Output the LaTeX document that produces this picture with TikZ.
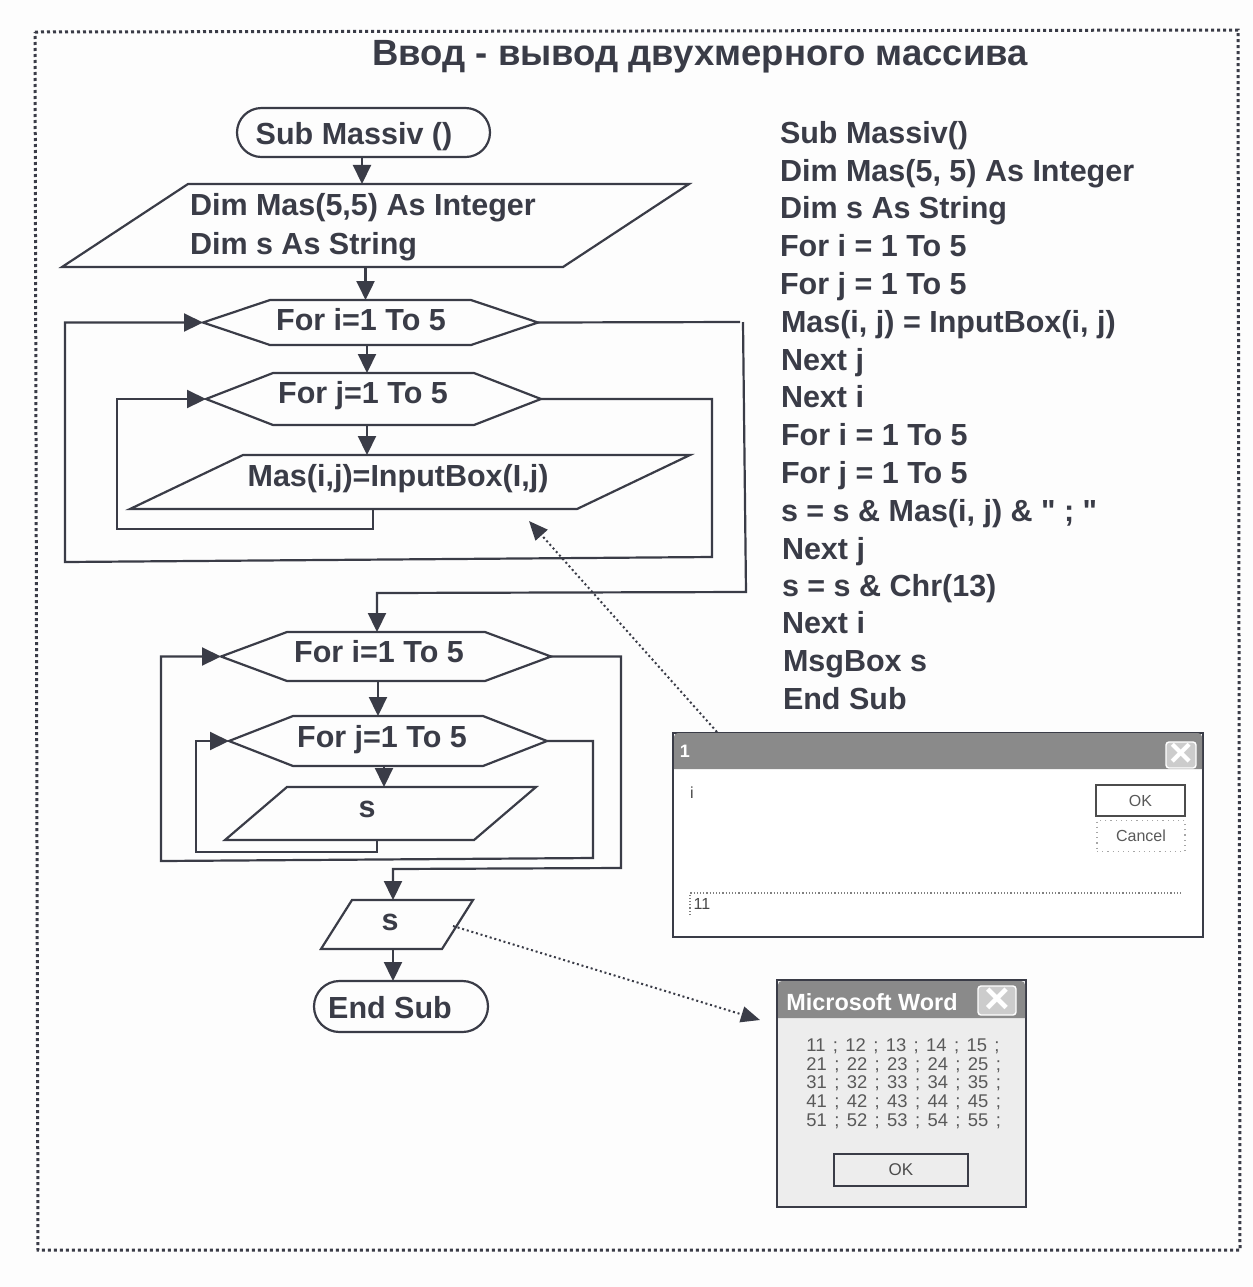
\documentclass[tikz,border=0pt]{standalone}
\usepackage{fontspec}
\setmainfont{Liberation Sans}
\newfontfamily\plainfam{Liberation Sans}
\newcommand{\straightq}{{\plainfam\bfseries\symbol{34}}}
\usetikzlibrary{shapes.geometric,shapes.symbols,shapes.misc,arrows.meta,calc}
\definecolor{ink}{HTML}{3A3C47}
\definecolor{paper}{HTML}{FDFDFD}
\tikzset{
  flow/.style={draw=ink,line width=1.1pt,fill=none,inner sep=0pt,outer sep=0pt},
  conn/.style={draw=ink,line width=1.1pt,line join=miter},
  arr/.style={conn,-{Triangle[length=9.5pt,width=9pt,color=ink]}},
  ptr/.style={draw=ink,line width=1pt,dash pattern=on 1pt off 1.4pt,-{Triangle[length=9.5pt,width=8pt,color=ink]}},
  lbl/.style={text=ink,font=\fontsize{15.25}{18}\selectfont\bfseries,inner sep=0pt,outer sep=0pt,anchor=base},
  code/.style={lbl,anchor=base west},
  stad/.style={flow,rounded rectangle},
  dlg/.style={draw=ink,line width=1.1pt,inner sep=0pt,outer sep=0pt,fill=white},
  barfill/.style={fill=black!46},
  closebtn/.style={fill=black!20,draw=white,line width=0.7pt,inner sep=0pt,outer sep=0pt,rounded corners=1.5pt},
  small/.style={text=black!72,font=\fontsize{8}{10}\selectfont,inner sep=0pt,outer sep=0pt},
}
% name, cx, cy, width, height, point length
\newcommand{\hexnode}[6]{%
  \pgfmathsetmacro{\hang}{2*atan(0.5*#5/#6)}%
  \node[flow,signal,signal to=east and west,signal pointer angle=\hang,
    minimum width=#4*0.5pt,minimum height=#5*0.5pt] (#1) at (#2,#3) {};}
% name, cx, cy, width, height, lean
\newcommand{\parnode}[6]{%
  \pgfmathsetmacro{\lang}{atan(#5/#6)}%
  \pgfmathsetmacro{\rang}{180-\lang}%
  \pgfmathsetmacro{\bw}{(#4-2*#6)*0.5}%
  \pgfmathsetmacro{\bh}{#5*0.5}%
  \node[flow,trapezium,trapezium left angle=\lang,trapezium right angle=\rang] (#1) at (#2,#3) {\phantom{\rule{\bw pt}{\bh pt}}};}
\begin{document}
\begin{tikzpicture}[x=0.5pt,y=-0.5pt]
\useasboundingbox (0,0) rectangle (1253,1287);
\fill[paper] (0,0) rectangle (1253,1287);
\draw[ink,line width=1.5pt,dash pattern=on 1.5pt off 1.5pt] (35,32) -- (1238,30) -- (1240,1250) -- (38,1250) -- cycle;
\node[lbl,font=\fontsize{18.25}{20}\selectfont\bfseries] (title) at (700,65) {Ввод - вывод двухмерного массива};

% flowchart nodes
\node[stad,minimum width=126.5pt,minimum height=24.5pt] (start) at (363.5,132.5) {};
\node[lbl] (startt) at (354,144) {Sub Massiv ()};
\parnode{decl}{375.5}{225.5}{627}{83}{126}
\node[lbl,anchor=base west] (declA) at (190,215) {Dim Mas(5,5) As Integer};
\node[lbl,anchor=base west] (declB) at (190,254) {Dim s As String};
\hexnode{fi}{370.5}{322.5}{335}{45}{67}
\node[lbl] (fit) at (361,330) {For i=1 To 5};
\hexnode{fj}{373.5}{399}{335}{52}{67}
\node[lbl] (fjt) at (363,403) {For j=1 To 5};
\parnode{inp}{410}{482}{560}{54}{113}
\node[lbl] (inpt) at (398,486) {Mas(i,j)=InputBox(I,j)};
\hexnode{gi}{386}{656.5}{330}{49}{66}
\node[lbl] (git) at (379,662) {For i=1 To 5};
\hexnode{gj}{388}{741}{318}{50}{64}
\node[lbl] (gjt) at (382,747) {For j=1 To 5};
\parnode{out}{380.5}{813.5}{311}{53}{62}
\node[lbl] (outt) at (367,817) {s};
\parnode{res}{397}{924.5}{152}{49}{31}
\node[lbl] (rest) at (390,930) {s};
\node[stad,minimum width=87pt,minimum height=25.5pt] (stop) at (401,1006.5) {};
\node[lbl] (stopt) at (390,1018) {End Sub};

% junction points
\coordinate (jA) at (740,322);
\coordinate (jB) at (743,322);
\coordinate (jC) at (621,868);

% connectors
\draw[arr] ([xshift=-0.75pt]start.south) -- ([xshift=-0.75pt]start.south |- decl.north);
\draw[arr] ([xshift=-5pt]decl.south) -- ([xshift=-5pt]decl.south |- fi.north);
\draw[arr] ([xshift=-1.75pt]fi.south) -- ([xshift=-1.75pt]fi.south |- fj.north);
\draw[arr] ([xshift=-3.25pt]fj.south) -- ([xshift=-3.25pt]fj.south |- inp.north);
\draw[arr] ([xshift=-18.5pt]inp.south) |- (117,529) |- (fj.west);
\draw[arr] (fj.east) -| (712,557) -- (65,562) |- (fi.west);
\draw[conn] (fi.east) -- (jA);
\draw[arr] (jB) -- (746,592) -- (377,593) -- (377,593 |- gi.north);
\draw[arr] ([xshift=-4pt]gi.south) -- ([xshift=-4pt]gi.south |- gj.north);
\draw[arr] ([xshift=-2pt]gj.south) -- ([xshift=-2pt]gj.south |- out.north);
\draw[arr] ([xshift=-1.75pt]out.south) |- (196,852) |- (gj.west);
\draw[arr] (gj.east) -| (593,858) -- (161,861) |- (gi.west);
\draw[arr] (gi.east) -| (jC) -- (393,869) -- (393,869 |- res.north);
\draw[arr] ([xshift=-2pt]res.south) -- ([xshift=-2pt]res.south |- stop.north);

% code listing
\foreach \n/\cx/\cy/\ct in {
 c1/780/143/{Sub Massiv()},
 c2/780/181/{Dim Mas(5, 5) As Integer},
 c3/780/218/{Dim s As String},
 c4/780/256/{For i = 1 To 5},
 c5/780/294/{For j = 1 To 5},
 c6/781/332/{Mas(i, j) = InputBox(i, j)},
 c7/781/370/{Next j},
 c8/781/407/{Next i},
 c9/781/445/{For i = 1 To 5},
 c10/781/483/{For j = 1 To 5},
 c11/781/521/{s = s \& Mas(i, j) \& \straightq{} ; \straightq},
 c12/782/559/{Next j},
 c13/782/596/{s = s \& Chr(13)},
 c14/782/633/{Next i},
 c15/783/671/{MsgBox s},
 c16/783/709/{End Sub}}
 {\node[code] (\n) at (\cx,\cy) {\ct};}

% input dialog
\node[dlg,minimum width=265pt,minimum height=102pt] (box1) at (938,835) {};
\fill[barfill,rounded corners=2pt] (674,769) -- (674,733) -- (1202,733) [sharp corners] -- (1202,769) -- cycle;
\node[closebtn,minimum width=15pt,minimum height=13pt] (x1) at (1181,755) {};
\node[text=white,font=\fontsize{20}{22}\selectfont\bfseries,inner sep=0pt] (x1t) at (1181,755) {×};
\node[small,font=\fontsize{9}{11}\selectfont\bfseries,text=white] (t1) at (685,751) {1};
\node[small] (l1) at (692,793) {i};
\node[draw=black!70,line width=0.8pt,minimum width=44.5pt,minimum height=15.5pt,inner sep=0pt,text=black!65,font=\fontsize{8}{10}\selectfont] (ok1) at (1140.5,800.5) {OK};
\node[draw=black!35,dotted,line width=0.6pt,minimum width=44pt,minimum height=15.5pt,inner sep=0pt,text=black!65,font=\fontsize{8}{10}\selectfont] (can1) at (1141,836) {Cancel};
\coordinate (fa) at (690,915);
\coordinate (fb) at (690,893);
\coordinate (fc) at (1183,893);
\draw[black!50,densely dotted,line width=0.6pt] (fa) -- (fb) -- (fc);
\node[small] (f1) at (702,904) {11};

% message dialog
\node[dlg,fill=black!7,minimum width=124.5pt,minimum height=113.5pt] (box2) at (901.5,1093.5) {};
\fill[barfill,rounded corners=2pt] (778,1018) -- (778,981) -- (1025,981) [sharp corners] -- (1025,1018) -- cycle;
\node[closebtn,minimum width=19pt,minimum height=14.5pt] (x2) at (997,1000.5) {};
\node[text=white,font=\fontsize{22}{24}\selectfont\bfseries,inner sep=0pt] (x2t) at (997,1000.5) {×};
\node[text=white,font=\fontsize{11.7}{13}\selectfont\bfseries,inner sep=0pt] (t2) at (872,1002) {Microsoft Word};
\foreach \n/\cy/\ct in {
 m1/1046/{11 ; 12 ; 13 ; 14 ; 15 ;},
 m2/1065/{21 ; 22 ; 23 ; 24 ; 25 ;},
 m3/1083/{31 ; 32 ; 33 ; 34 ; 35 ;},
 m4/1102/{41 ; 42 ; 43 ; 44 ; 45 ;},
 m5/1121/{51 ; 52 ; 53 ; 54 ; 55 ;}}
 {\node[text=black!65,font=\fontsize{9.2}{12}\selectfont,inner sep=0pt,anchor=west] (\n) at (806,\cy) {\spaceskip 3.7pt\relax \ct};}
\node[draw=ink,line width=0.9pt,minimum width=67pt,minimum height=16pt,inner sep=0pt,text=black!70,font=\fontsize{8.5}{10}\selectfont] (ok2) at (901,1170) {OK};

% pointers
\coordinate (p1a) at (717,732);
\coordinate (p1b) at (529,521);
\coordinate (p2a) at (453,926);
\coordinate (p2b) at (760,1020);
\draw[ptr] (p1a) -- (p1b);
\draw[ptr] (p2a) -- (p2b);
\end{tikzpicture}
\end{document}
